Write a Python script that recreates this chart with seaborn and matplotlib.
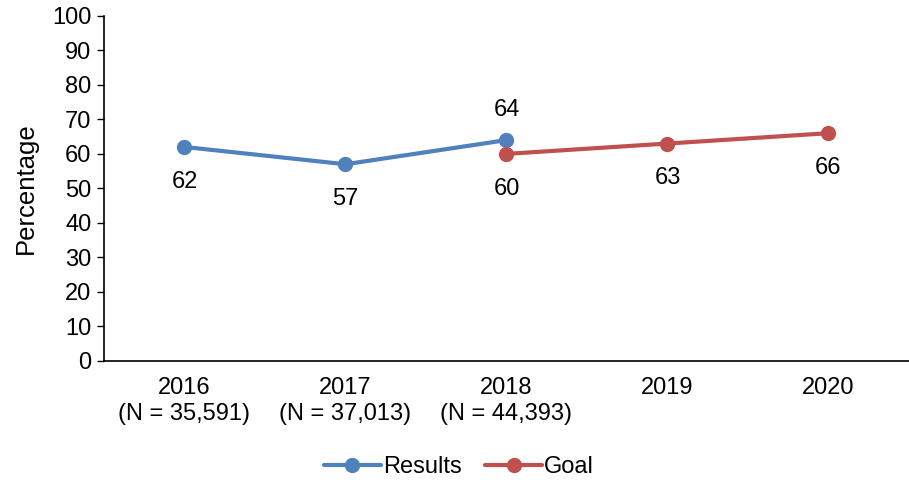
import pandas as pd
import seaborn as sb
import matplotlib.pyplot as plt

# chart values
years = ["2016", "2017", "2018", "2019", "2020"]
tick_labels = ["2016\n(N = 35,591)", "2017\n(N = 37,013)", "2018\n(N = 44,393)", "2019", "2020"]
results_years = ["2016", "2017", "2018"]
results_values = [62, 57, 64]
goal_years = ["2018", "2019", "2020"]
goal_values = [60, 63, 66]

sb.set_style("white")
plt.rcParams["font.family"] = ["Liberation Sans", "DejaVu Sans"]
plt.rcParams["text.color"] = "black"
plt.rcParams["xtick.color"] = "black"
plt.rcParams["ytick.color"] = "black"
plt.rcParams["axes.labelcolor"] = "black"

df = pd.concat([
    pd.DataFrame({"year": results_years, "value": results_values, "series": "Results"}),
    pd.DataFrame({"year": goal_years, "value": goal_values, "series": "Goal"}),
])
df["pos"] = df.year.map({y: i for i, y in enumerate(years)})

fig = plt.figure(figsize=(9.09, 4.8), dpi=100)
ax = fig.add_axes([0.1144, 0.248, 0.8856, 0.719])

palette = {"Results": "#4F81BD", "Goal": "#C0504D"}
sb.lineplot(data=df, x="pos", y="value", hue="series", palette=palette,
            marker="o", markersize=11, markeredgewidth=0, linewidth=3, ax=ax)

# data labels
for _, row in df.iterrows():
    above = row.series == "Results" and row.year == "2018"
    ax.annotate(f"{row.value}", (row.pos, row.value),
                xytext=(0, 22 if above else -25), textcoords="offset points",
                ha="center", va="center", fontsize=17)

ax.set_xlim(-0.5, 4.5)
ax.set_ylim(0, 100)
ax.set_yticks(range(0, 101, 10))
ax.set_xticks(range(len(years)))
ax.set_xticklabels(tick_labels, fontsize=17, linespacing=1.25)
ax.tick_params(axis="y", labelsize=17, left=True, length=5, width=1, pad=4)
ax.tick_params(axis="x", bottom=False, pad=8)
ax.set_xlabel("")
ax.set_ylabel("Percentage", fontsize=18.5, labelpad=10)
for s in ["top", "right"]:
    ax.spines[s].set_visible(False)
for s in ["left", "bottom"]:
    ax.spines[s].set_color("#000000")
    ax.spines[s].set_linewidth(1.2)

handles, labels = ax.get_legend_handles_labels()
ax.legend(handles, labels, loc="center", bbox_to_anchor=(0.441, -0.307),
          ncol=2, frameon=False, fontsize=17, handlelength=2.4,
          columnspacing=1.0, handletextpad=0.1)

fig.savefig("out.png", dpi=100)
